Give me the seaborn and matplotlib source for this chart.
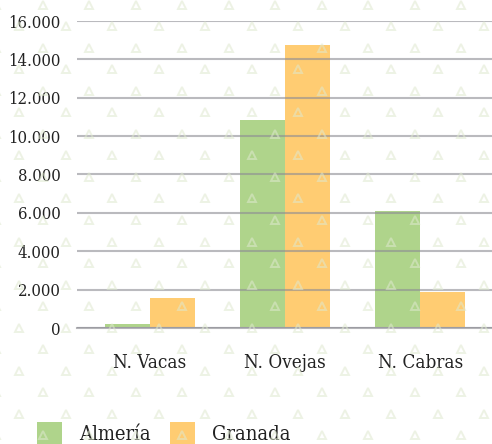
import numpy as np
import pandas as pd
import matplotlib.pyplot as plt
import seaborn as sns
from matplotlib.ticker import FuncFormatter

# data
categorias = ["N. Vacas", "N. Ovejas", "N. Cabras"]
almeria = [200, 10830, 6090]
granada = [1560, 14740, 1875]
provincias = ["Almería", "Granada"]
colores = ["#afd48b", "#ffcc72"]

df = pd.DataFrame({
    "categoria": categorias * 2,
    "valor": almeria + granada,
    "provincia": [provincias[0]] * 3 + [provincias[1]] * 3,
})

sns.set_style("white")
plt.rcParams['font.family'] = ['DejaVu Serif', 'DejaVu Sans']
plt.rcParams['font.stretch'] = 'condensed'

fig = plt.figure(figsize=(4.92, 4.44), dpi=100)

# faint triangle watermark in the background
W, H = 492, 444
xs, ys = [], []
for i, yy in enumerate(np.arange(5, H + 20, 21.5)):
    off = 0 if i % 2 == 0 else 23
    for xx in np.arange(-4 + off, W + 30, 46.5):
        xs.append(xx / W)
        ys.append(1 - yy / H)
fig.add_artist(plt.Line2D(xs, ys, transform=fig.transFigure, linestyle="none",
                          marker="^", markersize=6, markerfacecolor="none",
                          markeredgecolor="#dfe9cf", markeredgewidth=1.4, alpha=0.55, zorder=10))

ax = fig.add_axes([77 / W, 1 - 328 / H, 1 - 77 / W, (328 - 21) / H])
ax.patch.set_alpha(0)

sns.barplot(data=df, x="categoria", y="valor", hue="provincia", palette=colores,
            width=0.667, saturation=1, linewidth=0, ax=ax, legend=True, zorder=1)

ax.set_xlim(-0.54, 2.53)
ax.set_ylim(0, 16000)
ax.set_yticks(np.arange(0, 16001, 2000))
ax.yaxis.set_major_formatter(FuncFormatter(lambda v, p: f"{int(v):,}".replace(",", ".")))
ax.grid(axis="y", color="#8c8c94", linewidth=1.5, alpha=0.6)
ax.set_axisbelow(False)
for s in ["top", "right", "left"]:
    ax.spines[s].set_visible(False)
ax.spines["bottom"].set_color("#b4b4b8")
ax.spines["bottom"].set_linewidth(1.5)
ax.set_xlabel("")
ax.set_ylabel("")
ax.tick_params(axis="y", labelsize=12, length=0, pad=12, colors="#222222")
ax.tick_params(axis="x", labelsize=13.5, length=0, pad=19, colors="#222222")

leg = ax.legend(loc="lower left", bbox_to_anchor=(19 / W, -0.044), bbox_transform=fig.transFigure,
                ncol=2, frameon=False, fontsize=14.5, handlelength=1.25, handleheight=1.4,
                columnspacing=0.95, handletextpad=0.85)
for t in leg.get_texts():
    t.set_color("#222222")

plt.savefig("out.png", dpi=100)
